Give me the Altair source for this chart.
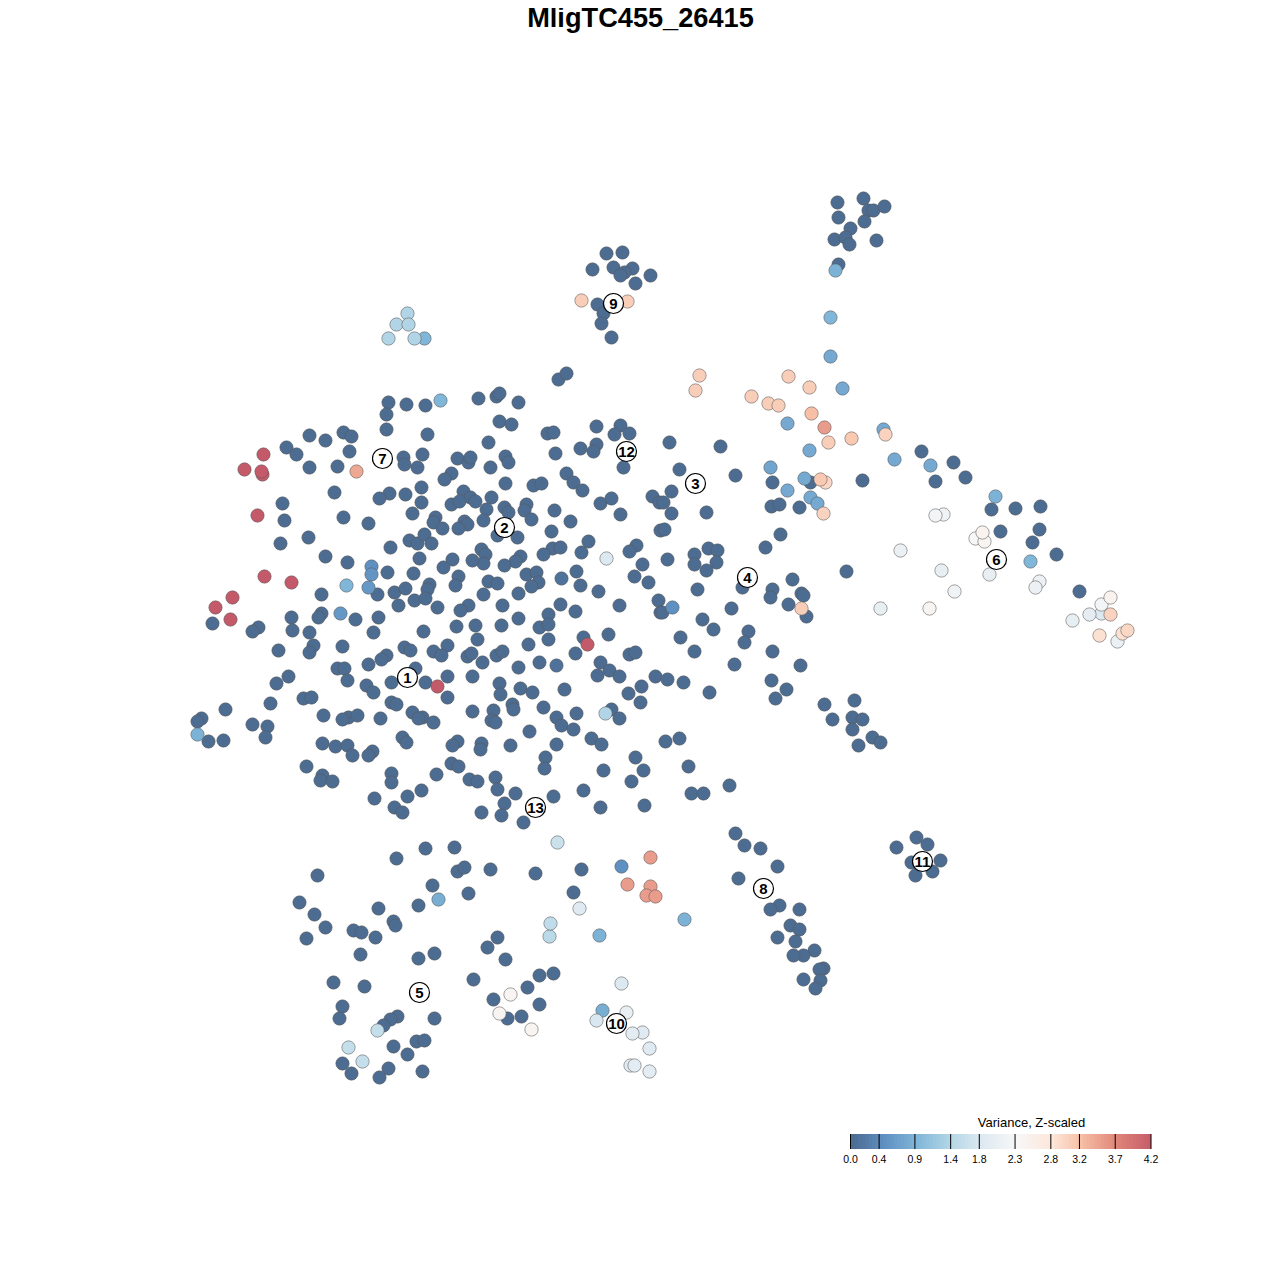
import altair as alt
import pandas as pd

# Embedding coordinates (no units on a t-SNE map)
dark_top = [(837,202),(863,198),(868,210),(873,210),(884,206),(838,217),(864,221),(850,228),(834,239),(845,237),(849,244),(876,240),(838,264),
            (606,253),(622,252),(592,269),(613,267),(632,268),(624,272),(620,275),(650,275),(635,283),(597,304),(603,313),(601,323),(611,337),
            (558,379),(566,373)]
dark_nw = [(388,402),(406,404),(386,414),(386,429),(309,435),(325,440),(343,432),(351,436),(286,447),(296,454),(349,451),(309,467),(337,466),
           (403,457),(404,464),(417,467),(422,454),(334,492),(389,493),(379,498),(405,494),(421,487),(421,502),(282,503),(284,520),(343,517),
           (368,523),(412,513),(308,537),(280,543),(409,540),(417,543),(390,547),(325,556),(347,562),(419,558),(387,572),(413,573),(321,594),
           (377,594),(394,592),(405,588),(414,600),(398,605),(321,613),(318,617),(291,617),(355,619),(378,617),(212,623)]
dark_n = [(425,405),(478,398),(496,396),(499,393),(518,402),(499,421),(511,424),(547,433),(553,432),(427,434),(488,442),(596,426),(620,425),
          (614,434),(629,433),(555,453),(580,448),(596,444),(593,451),(623,467),(457,458),(468,462),(470,457),(505,456),(508,462),(490,467),
          (566,473),(573,482),(582,490),(451,473),(444,479),(505,483),(533,485),(541,483),(463,491),(470,497),(475,501),(491,497),(451,504),
          (459,501),(600,503),(611,498),(652,496),(659,502),(486,509),(504,507),(508,512),(526,504),(524,510),(554,510),(620,514),
          (531,519),(570,521),(435,517),(433,522),(464,521),(467,524),(483,520),(458,528),(442,528),(551,531),(660,530),(497,535),(517,537),
          (424,534),(431,543),(552,548),(560,547),(543,554),(581,552),(636,545),(629,551),(642,564),(481,549),(485,554),(483,563),(520,556),
          (515,561),(504,565),(472,560),(452,559),(443,567),(576,571),(526,574),(536,572),(538,582),(531,586),(580,585),(634,576),(648,582),
          (458,576),(455,585),(488,581),(497,583),(429,584),(427,589),(425,598),(483,594),(518,593),(598,591),(437,607),(560,604),(575,611),
          (548,614),(619,605),(658,600),(660,612),(502,605),(468,605),(460,610),(518,618),(588,541)]
dark_mid = [(456,626),(475,625),(501,625),(539,627),(548,624),(423,631),(477,639),(548,639),(528,644),(583,637),(608,634),(575,653),(447,645),
            (433,651),(441,655),(467,656),(471,653),(482,662),(496,655),(502,651),(539,662),(518,667),(629,654),(635,652),(600,662),(609,670),
            (597,675),(619,676),(655,676),(472,676),(447,676),(425,682),(447,697),(641,686),(499,683),(500,694),(520,688),(532,692),(564,689),
            (628,693),(640,702),(543,707),(512,704),(513,709),(493,710),(491,720),(495,722),(472,711),(556,717),(561,725),(576,713),(573,729),
            (611,709),(619,718),(422,717),(433,722),(529,731),(591,738),(601,744),(556,744),(510,745),(457,741),(452,745),(481,743),(480,749),
            (545,757),(544,768),(635,757),(643,770),(603,770),(631,781),(451,763),(458,766),(436,774),(469,779),(477,781),(495,777),(497,789),
            (515,793),(553,796),(583,790),(421,790),(504,803),(481,812),(501,815),(523,822),(600,807),(644,805)]
dark_sw = [(258,627),(252,631),(292,630),(309,632),(313,645),(309,652),(373,632),(278,650),(342,646),(404,647),(410,650),(386,655),(381,659),
           (368,664),(337,668),(344,668),(288,676),(276,683),(347,680),(366,685),(373,692),(391,682),(415,668),(270,703),(303,698),(311,697),
           (391,702),(396,704),(412,712),(418,718),(323,715),(348,717),(342,719),(357,715),(380,718),(225,709),(201,718),(197,721),(208,741),
           (223,740),(252,724),(267,726),(265,737),(322,743),(335,746),(347,745),(352,755),(372,751),(368,755),(402,737),(406,742),(306,766),
           (322,775),(320,780),(332,781),(391,773),(391,782),(374,798),(407,796),(394,807),(402,812)]
dark_east = [(731,608),(702,619),(713,629),(680,637),(694,651),(748,631),(744,642),(772,651),(734,664),(800,665),(667,679),(683,682),(709,692),
             (771,680),(786,689),(775,698),(824,704),(832,719),(854,700),(852,717),(862,719),(852,729),(872,737),(880,742),(858,745),(665,741),
             (679,738),(688,766),(729,785),(691,793),(703,793),(788,604),(806,616),(662,612),
             (669,442),(720,446),(679,469),(671,491),(735,475),(772,482),(810,482),(862,480),(663,502),(671,513),(706,512),(771,506),(779,504),
             (799,507),(664,529),(780,534),(765,547),(708,548),(717,550),(694,554),(694,564),(716,562),(706,570),(667,559),(846,571),(792,579),
             (742,587),(697,589),(772,589),(770,597),(801,593),(803,595),
             (921,451),(953,462),(935,481),(965,477),(991,509),(1015,508),(1040,506),(1000,531),(1039,529),(1032,542),(1056,554),(1079,591)]
dark_south = [(735,833),(744,845),(760,848),(777,866),(738,878),(779,905),(770,909),(799,909),(790,925),(799,929),(777,937),(795,941),(814,950),
              (803,955),(793,955),(823,968),(819,969),(803,979),(820,980),(815,988),
              (916,837),(927,844),(896,847),(911,862),(940,860),(932,871),(915,875),
              (396,858),(425,848),(454,847),(317,875),(457,871),(464,867),(490,869),(432,885),(468,893),(299,902),(314,914),(378,908),(418,905),
              (325,927),(306,938),(353,930),(361,932),(375,937),(393,921),(395,925),(360,954),(418,958),(434,953),(497,937),(487,947),(505,959),
              (333,982),(364,986),(473,979),(493,999),(342,1006),(339,1018),(434,1018),(397,1016),(390,1019),(383,1025),(507,1018),(521,1016),
              (393,1046),(416,1041),(424,1040),(407,1054),(342,1063),(351,1073),(388,1068),(379,1077),(422,1071),
              (535,873),(581,869),(573,892),(539,975),(553,973),(527,987),(539,1004)]

dark_value = 0.0
# Non-zero points: x, y, value
coloured = [
    (556,665,0.08),(561,578,0.08),(371,566,0.45),(371,574,0.5),(368,587,0.55),(340,613,0.55),(672,607,0.45),(621,866,0.45),
    (787,423,0.75),(883,429,0.75),(809,450,0.75),(894,459,0.75),(770,467,0.7),(804,478,0.75),(787,490,0.75),(810,497,0.75),(817,503,0.75),
    (842,388,0.75),(830,356,0.75),(930,465,0.75),(438,899,0.8),(602,1010,0.8),
    (835,270,0.85),(830,317,0.9),(424,338,0.9),(440,400,0.9),(346,585,0.9),(197,734,0.85),(995,496,0.85),(1030,561,0.9),(599,935,0.85),(684,919,0.85),
    (605,713,1.35),(407,313,1.35),(396,324,1.35),(408,324,1.35),(388,338,1.35),(414,338,1.35),(549,936,1.45),(550,923,1.5),(377,1030,1.55),
    (348,1047,1.55),(362,1061,1.55),(557,842,1.6),(606,558,1.8),(596,1020,1.75),(621,983,1.8),(642,1032,1.85),(649,1048,1.85),(630,1065,1.85),
    (1101,613,1.8),(632,1033,1.9),(634,1065,1.9),(649,1071,1.9),(579,908,1.85),(1089,614,1.95),(626,1012,2.0),
    (941,570,2.0),(989,574,2.0),(880,608,2.0),(1072,620,2.0),(900,550,2.05),(1117,641,2.05),(1039,581,2.1),(1035,587,2.1),
    (943,514,2.15),(954,591,2.15),(935,515,2.2),(1101,604,2.2),(975,538,2.3),(984,541,2.4),(929,608,2.4),(510,994,2.4),(499,1013,2.4),(531,1029,2.4),
    (982,532,2.45),(1110,597,2.45),(1099,635,2.85),(1122,633,2.85),(825,482,2.95),(1127,630,2.95),(885,434,3.0),(823,513,3.0),(1110,614,3.0),
    (699,375,3.05),(695,390,3.05),(788,376,3.05),(809,387,3.05),(751,396,3.05),(768,403,3.05),(778,405,3.05),(828,442,3.05),(581,300,3.05),(627,301,3.05),(801,608,3.05),
    (851,438,3.1),(820,479,3.1),(811,413,3.2),(356,471,3.4),(824,427,3.5),(650,857,3.5),(627,884,3.5),(650,886,3.5),(646,895,3.5),(655,896,3.5),
    (263,454,4.2),(244,469,4.2),(262,474,4.2),(261,471,4.2),(257,515,4.2),(264,576,4.2),(291,582,4.2),(232,597,4.2),(215,607,4.2),(230,619,4.2),
    (587,644,4.2),(437,686,4.2),
]

cluster_ids = ["1","2","3","4","5","6","7","8","9","10","11","12","13"]
cluster_x = [407,504,695,747,419,996,382,763,613,616,922,626,535]
cluster_y = [677,527,483,577,992,559,458,888,303,1023,861,451,807]

legend_ticks = [0.0,0.4,0.9,1.4,1.8,2.3,2.8,3.2,3.7,4.2]
color_stops = [0.0,0.45,0.9,1.4,1.8,2.3,2.8,3.2,3.7,4.2]
color_range = ["#4c6c92","#5f90c2","#80b6d8","#b6d8e7","#dde9f1","#f7f7f7","#fde6da","#f7bfa5","#df8579","#c45a69"]
ramp_steps = [i * 0.05 for i in range(84)]

title_text = "MligTC455_26415"
legend_title = "Variance, Z-scaled"

rows = []
for group in (dark_top, dark_nw, dark_n, dark_mid, dark_sw, dark_east, dark_south):
    rows += [{"x": x, "y": y, "v": dark_value} for x, y in group]
rows += [{"x": x, "y": y, "v": v} for x, y, v in coloured]
points = pd.DataFrame(rows)
clusters = pd.DataFrame({"x": cluster_x, "y": cluster_y, "id": cluster_ids})

X = alt.X("x:Q", axis=None, scale=alt.Scale(domain=[7.5, 1271.5], nice=False, zero=False))
Y = alt.Y("y:Q", axis=None, scale=alt.Scale(domain=[1271.5, 7.5], nice=False, zero=False))
COLOR_SCALE = alt.Scale(domain=color_stops, range=color_range, interpolate="rgb")
BAR_SCALE = alt.Scale(domain=[0, 4.2], range=[842.5, 1143], nice=False, zero=False)
FONT = "Liberation Sans"

dots = alt.Chart(points).mark_circle(
    size=178, opacity=1, stroke="#5a5a5a", strokeWidth=1, strokeOpacity=0.55
).encode(
    x=X, y=Y,
    color=alt.Color("v:Q", scale=COLOR_SCALE, legend=None),
    order=alt.Order("v:Q", sort="ascending"),
)

badge = alt.Chart(clusters).mark_circle(
    size=400, opacity=1, fill="white", stroke="black", strokeWidth=1.2
).encode(x=X, y=Y)
badge_text = alt.Chart(clusters).mark_text(
    font=FONT, fontSize=15, fontWeight="bold", color="black", baseline="middle", align="center"
).encode(x=X, y=Y, text="id:N")

title = alt.Chart(pd.DataFrame({"x": [640], "y": [18], "t": [title_text]})).mark_text(
    font=FONT, fontSize=27.2, fontWeight="bold", color="black", baseline="middle", align="center"
).encode(x=X, y=Y, text="t:N")
legend_label = alt.Chart(pd.DataFrame({"x": [1031], "y": [1122], "t": [legend_title]})).mark_text(
    font=FONT, fontSize=13, color="black", baseline="middle", align="center"
).encode(x=X, y=Y, text="t:N")

ramp = pd.DataFrame({"v": ramp_steps})
ramp["v2"] = (ramp["v"] + 0.07).clip(upper=4.2)
colorbar = alt.Chart(ramp).mark_rect(opacity=1).encode(
    x=alt.X("v:Q", axis=None, scale=BAR_SCALE),
    x2="v2:Q",
    y=alt.value(1126), y2=alt.value(1141),
    color=alt.Color("v:Q", scale=COLOR_SCALE, legend=None),
)
tick_df = pd.DataFrame({"v": legend_ticks})
ticks = alt.Chart(tick_df).mark_rule(color="black", strokeWidth=1).encode(
    x=alt.X("v:Q", axis=None, scale=BAR_SCALE),
    y=alt.value(1126), y2=alt.value(1141),
)
tick_labels = alt.Chart(tick_df).mark_text(
    font=FONT, fontSize=10.5, color="black", baseline="middle", align="center"
).encode(
    x=alt.X("v:Q", axis=None, scale=BAR_SCALE),
    y=alt.value(1152),
    text=alt.Text("v:Q", format=".1f"),
)

chart = (
    alt.layer(dots, badge, badge_text, title, legend_label, colorbar, ticks, tick_labels)
    .resolve_scale(x="independent", y="independent")
    .properties(width=1264, height=1264, padding=0, autosize=alt.AutoSizeParams(type="none"))
    .configure_view(stroke=None)
)
chart.save("out.html", embed_options={"renderer": "svg", "actions": False})
